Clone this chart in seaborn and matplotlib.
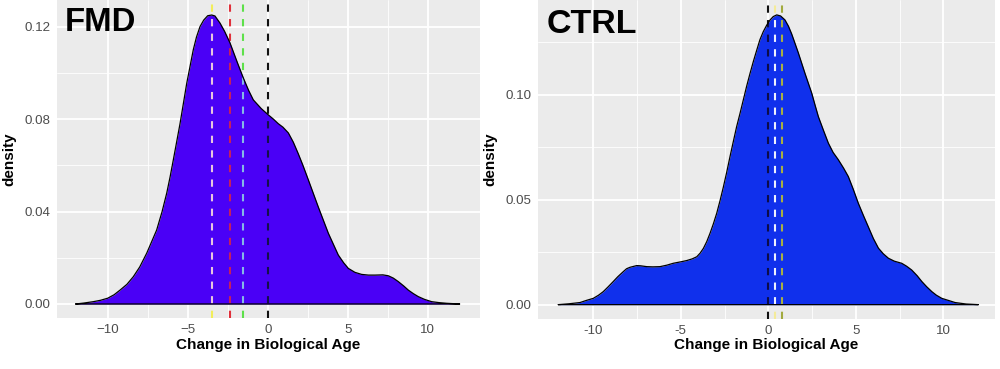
import numpy as np
import matplotlib
matplotlib.use("Agg")
import matplotlib.pyplot as plt
import seaborn as sns

# --- Density curves (x = change in biological age) ---
fmd_x = [-12.0, -11.5, -10.9, -10.45, -10.0, -9.6, -9.23, -8.8, -8.4, -8.0,
         -7.56, -7.25, -6.94, -6.6, -6.31, -6.1, -5.9, -5.48, -5.06, -4.65,
         -4.45, -4.23, -4.0, -3.75, -3.5, -3.3, -2.98, -2.7, -2.36, -1.9,
         -1.52, -1.2, -0.9, -0.4, 0.04, 0.35, 0.66, 0.95, 1.29, 1.6,
         1.91, 2.2, 2.54, 3.16, 3.79, 4.41, 4.75, 5.04, 5.45, 5.87,
         6.3, 6.7, 7.2, 7.54, 7.85, 8.16, 8.5, 8.79, 9.1, 9.41,
         9.8, 10.25, 10.7, 11.19, 12.0]
fmd_density = [0.0, 0.0004, 0.001, 0.0016, 0.0025, 0.004, 0.006, 0.0085, 0.0118, 0.016,
               0.022, 0.027, 0.032, 0.040, 0.048, 0.055, 0.0623, 0.078, 0.0955, 0.110,
               0.1155, 0.120, 0.1228, 0.1247, 0.125, 0.1246, 0.1215, 0.118, 0.113, 0.1045,
               0.0977, 0.0925, 0.0883, 0.0845, 0.0818, 0.080, 0.078, 0.0765, 0.074, 0.070,
               0.065, 0.060, 0.0537, 0.042, 0.0306, 0.0212, 0.0178, 0.0154, 0.0137, 0.0128,
               0.0125, 0.0125, 0.0126, 0.0122, 0.0112, 0.0097, 0.0078, 0.006, 0.0045, 0.0032,
               0.002, 0.001, 0.0006, 0.0003, 0.0]

ctrl_x = [-12.0, -11.4, -10.76, -10.4, -10.0, -9.7, -9.43, -9.15, -8.86, -8.6,
          -8.29, -8.1, -7.9, -7.52, -7.3, -6.95, -6.6, -6.19, -5.8, -5.43,
          -5.0, -4.66, -4.35, -4.09, -3.9, -3.71, -3.52, -3.33, -3.14, -2.95,
          -2.76, -2.57, -2.38, -2.19, -2.0, -1.81, -1.62, -1.43, -1.24, -1.05,
          -0.85, -0.66, -0.48, -0.29, -0.1, 0.1, 0.28, 0.48, 0.7, 0.95,
          1.15, 1.33, 1.5, 1.71, 2.1, 2.48, 2.67, 2.86, 3.15, 3.43,
          3.7, 4.0, 4.3, 4.57, 4.85, 5.14, 5.43, 5.71, 6.0, 6.29,
          6.57, 6.86, 7.2, 7.62, 7.9, 8.19, 8.5, 8.77, 9.05, 9.34,
          9.6, 9.91, 10.67, 11.3, 12.0]
ctrl_density = [0.0, 0.0004, 0.001, 0.002, 0.003, 0.0045, 0.0062, 0.0085, 0.011, 0.0133,
                0.0157, 0.0171, 0.0178, 0.0186, 0.0185, 0.0181, 0.018, 0.0181, 0.0188, 0.0197,
                0.0204, 0.021, 0.0218, 0.0228, 0.0245, 0.0268, 0.030, 0.034, 0.0385, 0.0435,
                0.0495, 0.056, 0.063, 0.0705, 0.0777, 0.0848, 0.091, 0.0975, 0.104, 0.110,
                0.116, 0.1213, 0.1262, 0.130, 0.133, 0.1356, 0.1372, 0.138, 0.1375, 0.1356,
                0.1326, 0.129, 0.125, 0.120, 0.110, 0.1007, 0.095, 0.0895, 0.083, 0.0769,
                0.0725, 0.069, 0.065, 0.061, 0.055, 0.0483, 0.0425, 0.0371, 0.0315, 0.0269,
                0.0242, 0.0221, 0.0207, 0.0197, 0.0183, 0.0165, 0.0138, 0.011, 0.0085, 0.0062,
                0.0045, 0.003, 0.001, 0.0003, 0.0]

# reference lines: position, colour outside the curve, colour where it crosses the fill
fmd_vlines = [-3.5, -2.36, -1.55, 0.0]
fmd_vline_colors = ['#f2ee5a', '#e0303a', '#5ee04a', '#111111']
fmd_vline_inner = ['#e8c6de', '#c4205e', '#86b8e6', '#14104a']

ctrl_vlines = [0.0, 0.38, 0.77]
ctrl_vline_colors = ['#111111', '#f4eb9a', '#a2aa3e']
ctrl_vline_inner = ['#0c0c48', '#eef0ff', '#a8b042']

x_ticks = [-10, -5, 0, 5, 10]
fmd_xtick_labels = ['\u221210', '\u22125', '0', '5', '10']
ctrl_xtick_labels = ['-10', '-5', '0', '5', '10']
fmd_y_ticks = [0.00, 0.04, 0.08, 0.12]
ctrl_y_ticks = [0.00, 0.05, 0.10]

# --- ggplot-like grey theme ---
sns.set_style("darkgrid", {
    'axes.facecolor': '#EBEBEB',
    'grid.color': 'white',
    'axes.edgecolor': '#EBEBEB',
})
plt.rcParams['font.family'] = ['Liberation Sans', 'DejaVu Sans']
plt.rcParams['text.color'] = 'black'
plt.rcParams['axes.labelcolor'] = 'black'


def draw_panel(ax, xs, dens, fill_color, vlines, vcolors, vinner,
               xlim, ylim, yticks, ylabels, xticklabels, minor_y,
               label_size, ylabel_pad, xlabel_pad):
    ax.set_xlim(*xlim)
    ax.set_ylim(*ylim)

    # grid: major + minor in white
    ax.set_xticks(x_ticks)
    ax.set_xticks([-7.5, -2.5, 2.5, 7.5], minor=True)
    ax.set_yticks(yticks)
    ax.set_yticks(minor_y, minor=True)
    ax.grid(which='major', color='white', linewidth=1.3)
    ax.grid(which='minor', color='white', linewidth=0.6)
    ax.set_axisbelow(True)

    # vertical dashed lines (coloured part, mostly hidden under the fill)
    for v, c in zip(vlines, vcolors):
        ax.axvline(v, color=c, linewidth=1.5, dashes=(3.5, 3.5), zorder=1)

    poly = ax.fill_between(xs, dens, 0, color=fill_color, zorder=2, linewidth=0)
    clip = poly.get_paths()[0]

    # same lines again, lighter tone, clipped to the density area
    for v, c in zip(vlines, vinner):
        ln = ax.axvline(v, color=c, linewidth=1.5, dashes=(3.5, 3.5), zorder=3)
        ln.set_clip_path(clip, transform=ax.transData)

    sns.lineplot(x=xs + [xs[0]], y=dens + [0.0], color='black', linewidth=0.9,
                 sort=False, ax=ax, zorder=4, estimator=None)

    ax.set_yticklabels(ylabels)
    ax.set_xticklabels(xticklabels)
    ax.tick_params(axis='both', which='major', length=3, width=0.8,
                   color='#555555', labelcolor='#4d4d4d', labelsize=9.6, pad=1.5)
    ax.tick_params(axis='both', which='minor', length=0)
    ax.set_xlabel('Change in Biological Age', fontsize=label_size,
                  fontweight='bold', labelpad=xlabel_pad)
    ax.set_ylabel('density', fontsize=label_size, fontweight='bold',
                  labelpad=ylabel_pad)
    for s in ax.spines.values():
        s.set_visible(False)


fig = plt.figure(figsize=(10, 3.69), dpi=100)
ax1 = fig.add_axes([0.057, (369 - 318) / 369, 0.423, 318 / 369])
ax2 = fig.add_axes([0.538, (369 - 318.5) / 369, 0.457, 318.5 / 369])

draw_panel(ax1, fmd_x, fmd_density, '#4a00f6', fmd_vlines, fmd_vline_colors,
           fmd_vline_inner, (-13.17, 13.27), (-0.00606, 0.1315), fmd_y_ticks,
           ['0.00', '0.04', '0.08', '0.12'], fmd_xtick_labels,
           [0.02, 0.06, 0.10], 11.0, 6, 1)
draw_panel(ax2, ctrl_x, ctrl_density, '#1030ec', ctrl_vlines, ctrl_vline_colors,
           ctrl_vline_inner, (-13.16, 12.95), (-0.0066, 0.1451), ctrl_y_ticks,
           ['0.00', '0.05', '0.10'], ctrl_xtick_labels,
           [0.025, 0.075, 0.125], 11.0, 6, 1)

fig.text(0.065, (369 - 31) / 369, 'FMD', fontsize=23.7, fontweight='bold',
         va='baseline', ha='left')
fig.text(0.547, (369 - 33) / 369, 'CTRL', fontsize=24.5, fontweight='bold',
         va='baseline', ha='left')

fig.savefig('out.png', dpi=100, facecolor='white')
